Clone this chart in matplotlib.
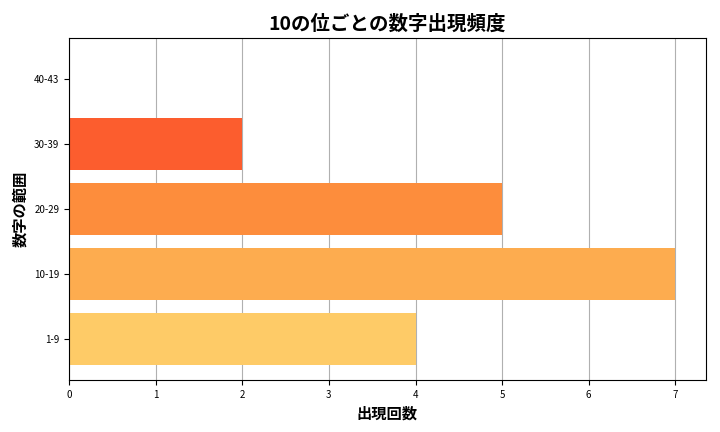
import matplotlib
matplotlib.use("Agg")
import matplotlib.pyplot as plt

plt.rcParams['font.family'] = ['Noto Sans CJK JP', 'DejaVu Sans']

categories = ["1-9", "10-19", "20-29", "30-39", "40-43"]
counts = [4, 7, 5, 2, 0]
colors = ["#FECB67", "#FDAC4F", "#FD8D3C", "#FC5D2E", "#E8301E"]

fig = plt.figure(figsize=(7.2, 4.32), dpi=100)
ax = fig.add_axes([0.096, 0.12, 0.884, 0.792])
ax.barh(categories, counts, color=colors, height=0.8, zorder=2)
ax.grid(axis='x', color='#b0b0b0', linewidth=0.8, zorder=0)
ax.set_xlim(0, 7.35)
ax.set_xticks(range(0, 8))
ax.tick_params(labelsize=7)
ax.set_title("10の位ごとの数字出現頻度", fontsize=14, fontweight='bold')
ax.set_xlabel("出現回数", fontsize=11, fontweight='bold')
ax.set_ylabel("数字の範囲", fontsize=11, fontweight='bold')
fig.savefig("out.png", dpi=100)
